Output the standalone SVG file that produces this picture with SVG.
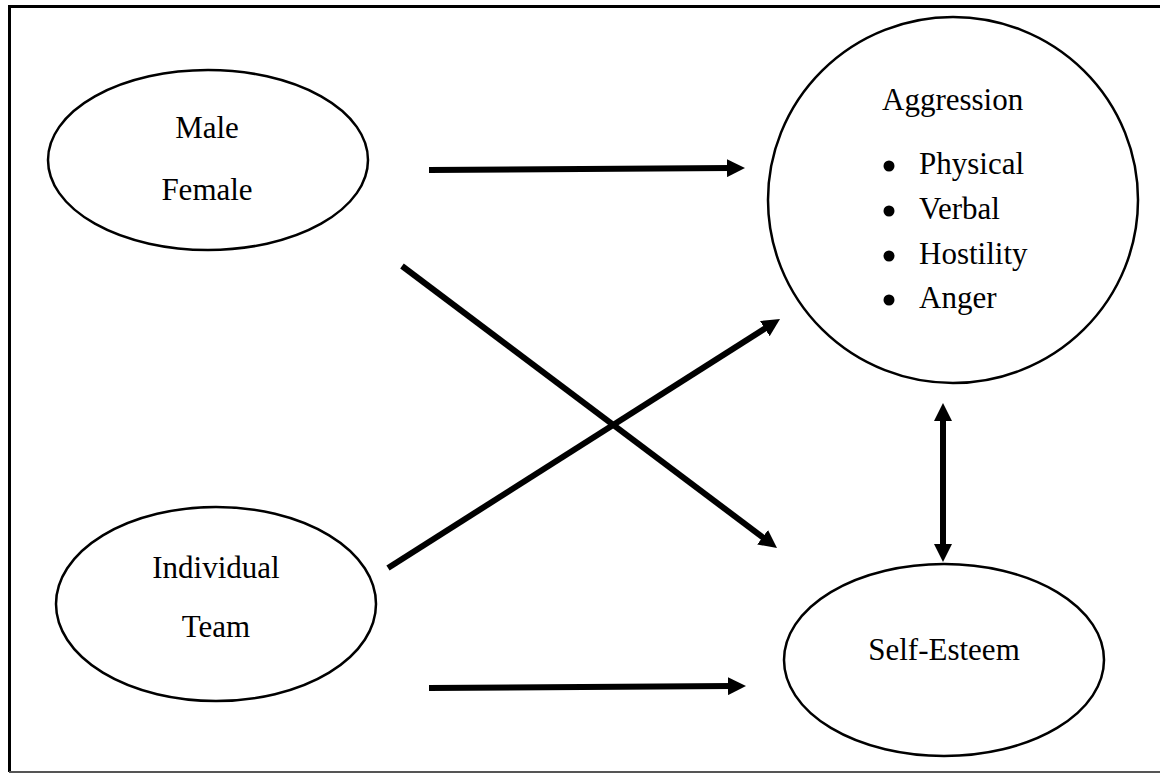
<svg xmlns="http://www.w3.org/2000/svg" width="1160" height="774" viewBox="0 0 1160 774">
<style>
  .node { fill: #ffffff; stroke: #000000; stroke-width: 2.5; }
  .lbl { font-family: "Liberation Serif", "Times New Roman", serif; font-size: 31px; fill: #000000; }
  .mid { text-anchor: middle; }
  .conn { stroke: #000000; stroke-width: 6; fill: none; }
  .frame { stroke: #000000; stroke-width: 3; fill: none; }
</style>
<defs>
  <marker id="ah" markerUnits="userSpaceOnUse" viewBox="0 0 18 18" refX="4" refY="9" markerWidth="18" markerHeight="18" orient="auto-start-reverse">
    <path d="M0,0 L18,9 L0,18 z" fill="#000000"/>
  </marker>
</defs>
<rect x="0" y="0" width="1160" height="774" fill="#ffffff"/>
<g id="frame">
  <line class="frame" x1="9" y1="6.5" x2="1160" y2="6.5"/>
  <line class="frame" x1="9.5" y1="5" x2="9.5" y2="772"/>
  <line x1="9" y1="772" x2="1160" y2="772" stroke="#555555" stroke-width="2"/>
</g>
<g id="connectors">
  <line class="conn" x1="429" y1="170" x2="731" y2="168.1" marker-end="url(#ah)"/>
  <line class="conn" x1="402" y1="266" x2="765.8" y2="539.6" marker-end="url(#ah)"/>
  <line class="conn" x1="388" y1="568" x2="768.2" y2="326.5" marker-end="url(#ah)"/>
  <line class="conn" x1="429" y1="688" x2="732" y2="686.1" marker-end="url(#ah)"/>
  <line class="conn" x1="943" y1="417" x2="943" y2="548" marker-start="url(#ah)" marker-end="url(#ah)"/>
</g>
<g id="gender">
  <ellipse class="node" cx="208" cy="160" rx="160" ry="90"/>
  <text class="lbl mid" x="207" y="138">Male</text>
  <text class="lbl mid" x="207" y="200">Female</text>
</g>
<g id="sport">
  <ellipse class="node" cx="216" cy="604" rx="160" ry="97"/>
  <text class="lbl mid" x="216" y="578">Individual</text>
  <text class="lbl mid" x="216" y="637">Team</text>
</g>
<g id="aggression">
  <ellipse class="node" cx="953" cy="200" rx="185" ry="183"/>
  <text class="lbl" x="882" y="110">Aggression</text>
  <circle cx="889" cy="166" r="5.5" fill="#000000"/>
  <text class="lbl" x="919" y="174">Physical</text>
  <circle cx="889" cy="211" r="5.5" fill="#000000"/>
  <text class="lbl" x="919" y="219">Verbal</text>
  <circle cx="889" cy="256" r="5.5" fill="#000000"/>
  <text class="lbl" x="919" y="264">Hostility</text>
  <circle cx="889" cy="300" r="5.5" fill="#000000"/>
  <text class="lbl" x="919" y="308">Anger</text>
</g>
<g id="selfesteem">
  <ellipse class="node" cx="944" cy="660" rx="160" ry="96"/>
  <text class="lbl mid" x="944" y="660">Self-Esteem</text>
</g>
</svg>
